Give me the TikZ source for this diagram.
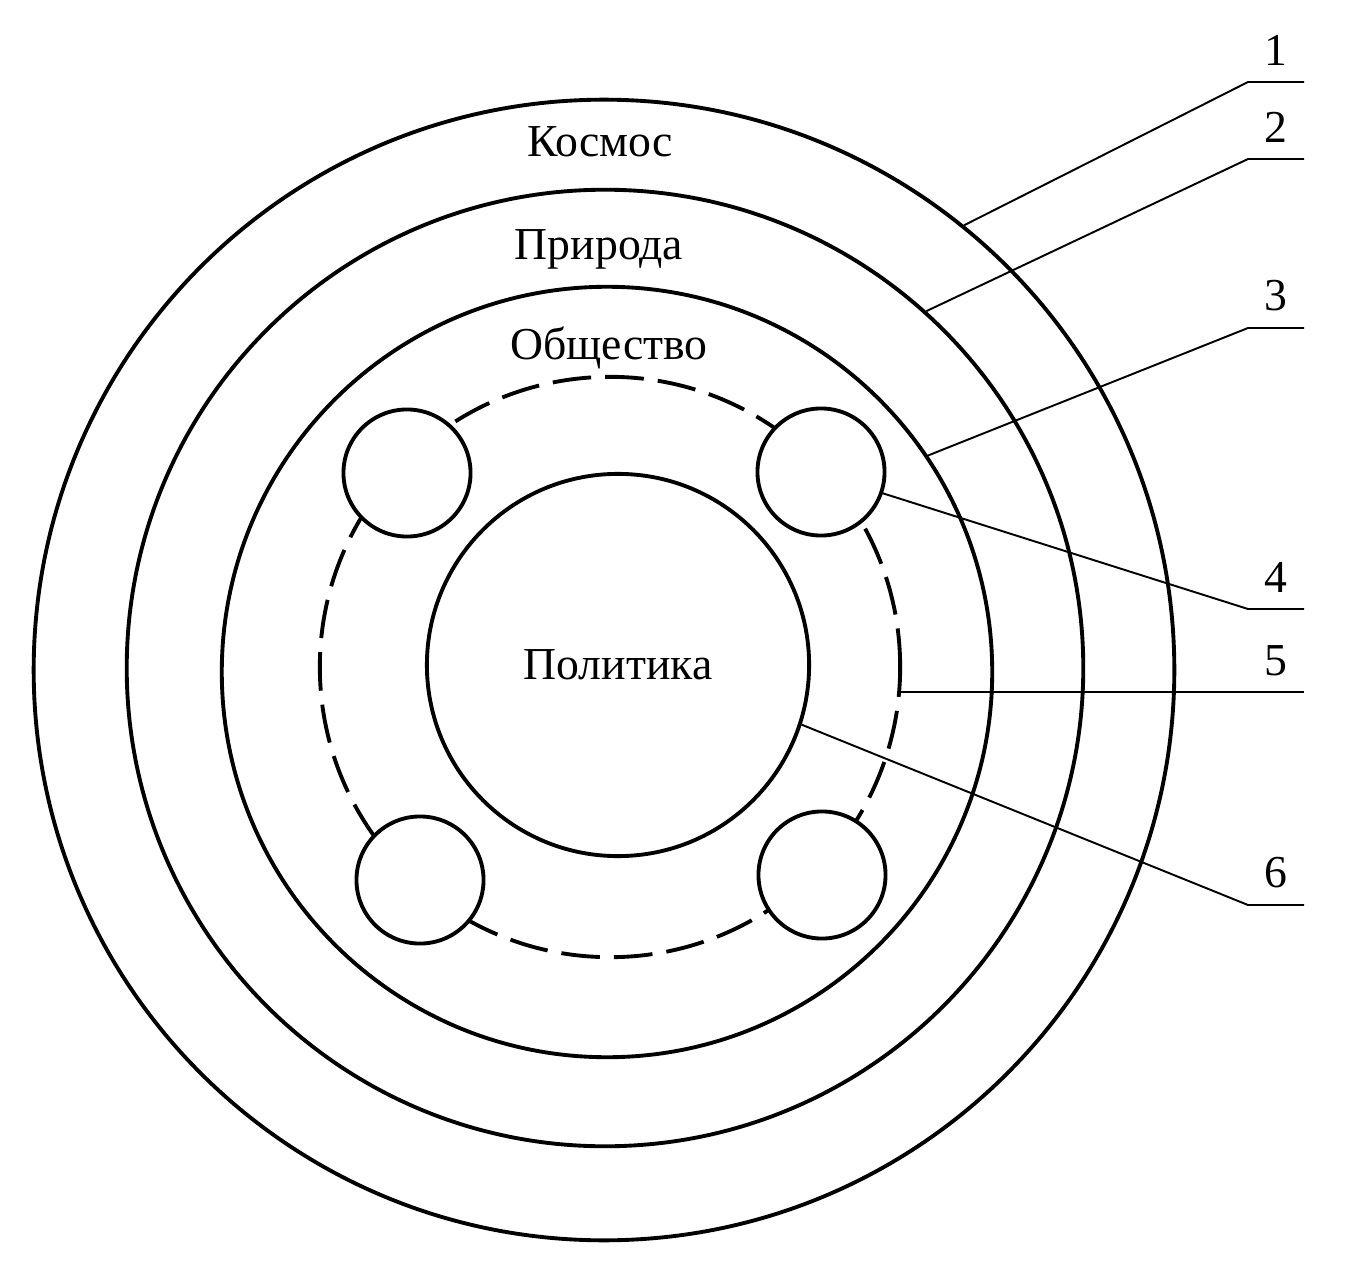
\documentclass[tikz,border=0pt]{standalone}
\usepackage{fontspec}
\setmainfont{Liberation Serif}
\begin{document}
\begin{tikzpicture}[x=0.01cm,y=-0.01cm,
    ring/.style={circle,draw,line width=1.1pt,inner sep=0pt},
    orbit/.style={ring,dash pattern=on 11pt off 4pt},
    party/.style={ring,fill=white,minimum size=1.27cm},
    leader/.style={line width=0.55pt},
    txt/.style={font=\fontsize{13pt}{15pt}\selectfont},
    sphere/.style={txt,anchor=base},
    num/.style={txt,midway,above=4.5pt,inner sep=0pt}]
\useasboundingbox (0,0) rectangle (1370,1270);
% spheres
\node[ring,minimum size=11.4cm] (kosmos) at (604,670) {};
\node[ring,minimum size=9.56cm] (priroda) at (605,668) {};
\node[ring,minimum size=7.7cm] (obshchestvo) at (607,672) {};
\node[orbit,minimum size=5.8cm] (orbit) at (610,667) {};
\node[ring,txt,minimum size=3.82cm] (politika) at (618,665) {Политика};
\node[party] (p1) at (407,473) {};
\node[party] (p2) at (821,472) {};
\node[party] (p3) at (420,880) {};
\node[party] (p4) at (822,875) {};
\node[sphere] (tk) at (600,157) {Космос};
\node[sphere] (tp) at (599,260) {Природа};
\node[sphere] (to) at (609,360) {Общество};
% callouts
\foreach \i/\ky in {1/82,2/159,3/328,4/609,5/691,6/905}{
    \coordinate (k\i) at (1248,\ky);
    \coordinate (e\i) at (1304,\ky);
}
\draw[leader] (kosmos.51.7) -- (k1) -- (e1) node[num]{1};
\draw[leader] (priroda.48.9) -- (k2) -- (e2) node[num]{2};
\draw[leader] (obshchestvo.34) -- (k3) -- (e3) node[num]{3};
\draw[leader] (p2.-19.5) -- (k4) -- (e4) node[num]{4};
\draw[leader] (orbit.-5.6) -- (orbit.-5.6 -| k5) -- (orbit.-5.6 -| e5) node[num]{5};
\draw[leader] (politika.-18.5) -- (k6) -- (e6) node[num]{6};
\end{tikzpicture}
\end{document}
